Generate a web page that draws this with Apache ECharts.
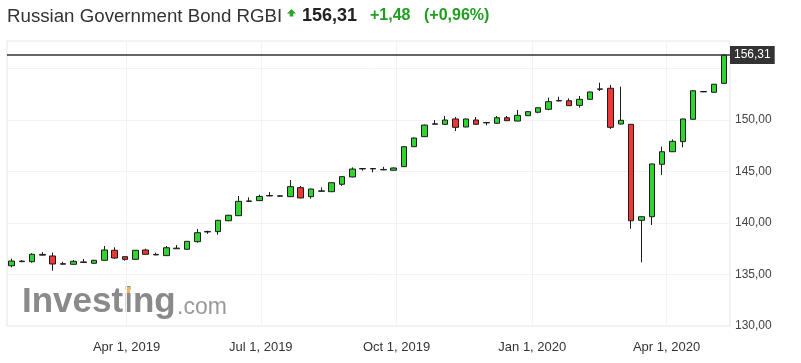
<!DOCTYPE html>
<html><head><meta charset="utf-8">
<script src="https://cdn.jsdelivr.net/npm/echarts@6/dist/echarts.min.js"></script>
<style>html,body{margin:0;padding:0;background:#fff}#c{width:801px;height:363px}</style>
</head><body><div id="c"></div>
<script>
const dates = ['2019-01-13','2019-01-20','2019-01-27','2019-02-03','2019-02-10','2019-02-17','2019-02-24','2019-03-03','2019-03-10','2019-03-17','2019-03-24','2019-03-31','2019-04-07','2019-04-14','2019-04-21','2019-04-28','2019-05-05','2019-05-12','2019-05-19','2019-05-26','2019-06-02','2019-06-09','2019-06-16','2019-06-23','2019-06-30','2019-07-07','2019-07-14','2019-07-21','2019-07-28','2019-08-04','2019-08-11','2019-08-18','2019-08-25','2019-09-01','2019-09-08','2019-09-15','2019-09-22','2019-09-29','2019-10-06','2019-10-13','2019-10-20','2019-10-27','2019-11-03','2019-11-10','2019-11-17','2019-11-24','2019-12-01','2019-12-08','2019-12-15','2019-12-22','2019-12-29','2020-01-05','2020-01-12','2020-01-19','2020-01-26','2020-02-02','2020-02-09','2020-02-16','2020-02-23','2020-03-01','2020-03-08','2020-03-15','2020-03-22','2020-03-29','2020-04-05','2020-04-12','2020-04-19','2020-04-26','2020-05-03','2020-05-10'];
const opens  = [135.85,136.25,136.24,136.88,136.80,136.00,135.99,136.17,136.09,136.38,137.35,136.73,136.47,137.38,136.90,136.83,137.50,137.45,138.19,139.13,139.16,140.22,140.71,142.10,142.17,142.63,142.60,142.56,143.43,142.56,143.08,143.04,143.76,144.47,145.25,145.25,145.16,145.12,145.47,147.41,148.38,149.59,149.58,150.10,149.32,150.00,149.76,149.68,150.22,149.90,150.42,150.75,151.04,151.85,151.87,151.42,152.01,152.98,153.08,149.61,149.58,140.26,140.61,145.70,146.92,147.90,150.07,152.73,152.69,153.56];
const closes = [136.31,136.30,136.96,136.95,136.02,136.05,136.28,136.22,136.38,137.38,136.60,136.47,137.35,136.96,136.95,137.60,137.56,138.22,139.06,139.18,140.26,140.75,142.10,142.14,142.58,142.67,142.64,143.53,142.43,143.30,143.12,143.91,144.50,145.24,145.29,145.29,145.20,145.34,147.41,148.25,149.51,149.63,150.00,149.29,150.10,149.58,149.72,150.22,149.93,150.45,150.81,151.19,151.78,151.89,151.39,152.01,152.72,153.02,149.29,149.97,140.22,140.61,145.73,146.92,147.93,150.10,152.84,152.77,153.47,156.31];
const lows   = [135.70,136.20,136.15,136.85,135.37,135.98,135.95,136.15,136.06,136.35,136.53,136.34,136.44,136.93,136.88,136.80,137.48,137.42,138.09,138.95,138.87,140.18,140.68,142.07,142.14,142.60,142.57,142.53,142.40,142.36,143.05,143.00,143.60,144.44,145.08,144.92,145.13,145.10,145.44,147.38,148.35,149.57,149.55,148.93,149.30,149.55,149.48,149.65,149.90,149.87,150.39,150.65,150.95,151.82,151.36,151.20,151.98,152.82,149.13,149.58,139.44,136.18,139.81,144.66,146.89,147.35,150.04,152.70,152.66,153.53];
const highs  = [136.53,136.40,137.06,137.18,137.12,136.24,136.40,136.50,136.42,137.77,137.64,136.76,137.38,137.51,137.12,137.77,137.86,138.25,139.42,139.25,140.30,140.80,142.62,142.49,142.75,143.00,142.68,144.17,143.60,143.33,143.46,143.95,144.54,145.40,145.32,145.32,145.45,145.40,147.45,148.30,149.55,150.00,150.39,150.30,150.14,150.29,149.80,150.39,150.39,150.97,150.85,151.23,152.17,152.26,152.10,152.33,152.76,153.62,153.40,153.24,149.62,140.65,145.77,147.41,148.12,150.13,152.88,152.80,153.50,156.41];
const xTickDates = ['2019-04-01','2019-07-01','2019-10-01','2020-01-01','2020-04-01'];
const xTickLabels = ['Apr 1, 2019','Jul 1, 2019','Oct 1, 2019','Jan 1, 2020','Apr 1, 2020'];
const xRange = ['2019-01-10','2020-05-14'];
const yTicks = [130,135,140,145,150,155];
const yLabels = ['130,00','135,00','140,00','145,00','150,00',''];
const lastPrice = 156.31;
const lastPriceText = '156,31';
const titleText = 'Russian Government Bond RGBI';
const changeText = '+1,48';
const changePctText = '(+0,96%)';

const FONT = "'Liberation Sans', Arial, sans-serif";
const toMs = s => { const p = s.split('-').map(Number); return Date.UTC(p[0], p[1] - 1, p[2]); };
const data = dates.map((d, i) => [toMs(d), opens[i], closes[i], lows[i], highs[i]]);
const tickTimes = xTickDates.map(toMs);

const chart = echarts.init(document.getElementById('c'), null, {renderer: 'canvas'});
chart.setOption({
  animation: false,
  backgroundColor: '#fff',
  grid: {left: 7, right: 71, top: 41, bottom: 37, show: true, borderColor: '#e3e6ee', borderWidth: 1, containLabel: false},
  xAxis: {
    type: 'value',
    min: toMs(xRange[0]), max: toMs(xRange[1]), scale: true,
    axisLine: {show: false}, axisTick: {show: false, customValues: tickTimes},
    splitLine: {show: true, lineStyle: {color: '#f1f2f5', width: 1}},
    axisLabel: {
      customValues: tickTimes, hideOverlap: false,
      color: '#333', fontFamily: FONT, fontSize: 13, margin: 15,
      formatter: function (v) {
        let best = 0, bd = Infinity;
        tickTimes.forEach((t, i) => { const d = Math.abs(t - v); if (d < bd) { bd = d; best = i; } });
        return xTickLabels[best];
      }
    }
  },
  yAxis: {
    type: 'value', position: 'right', min: 130, max: 157.67, scale: true,
    axisLine: {show: false}, axisTick: {show: false, customValues: yTicks},
    splitLine: {show: true, lineStyle: {color: '#f1f2f5', width: 1}},
    axisLabel: {
      customValues: yTicks, color: '#444', fontFamily: FONT, fontSize: 12, margin: 5,
      formatter: function (v) { const i = yTicks.indexOf(Math.round(v)); return i >= 0 ? yLabels[i] : ''; }
    }
  },
  series: [{
    type: 'candlestick',
    data: data,
    encode: {x: 0, y: [1, 2, 3, 4]},
    barWidth: 6,
    itemStyle: {color: '#31d331', color0: '#f23535', borderColor: '#1c1c1c', borderColor0: '#1c1c1c', borderWidth: 1},
    markLine: {
      silent: true, symbol: 'none', animation: false,
      lineStyle: {color: '#333', width: 1.5, type: 'solid'},
      label: {show: true, position: 'end', distance: 0, formatter: lastPriceText, backgroundColor: '#333', color: '#fff',
              fontFamily: FONT, fontSize: 12, padding: [3, 4, 3, 4]},
      data: [{yAxis: lastPrice}]
    }
  }],
  graphic: [
    {type: 'text', left: 7, top: 7, style: {text: titleText, font: "18.7px " + FONT, fill: '#333'}},
    {type: 'polygon', shape: {points: [[291.5, 9], [296, 13.5], [293.3, 13.5], [293.3, 16.5], [289.7, 16.5], [289.7, 13.5], [287, 13.5]]}, style: {fill: '#2aa52a'}},
    {type: 'text', left: 302, top: 7, style: {text: lastPriceText, font: "bold 18px " + FONT, fill: '#222'}},
    {type: 'text', left: 370, top: 8, style: {text: changeText, font: "bold 16px " + FONT, fill: '#1f9e1f'}},
    {type: 'text', left: 424, top: 8, style: {text: changePctText, font: "bold 16px " + FONT, fill: '#1f9e1f'}},
    {type: 'text', left: 22, top: 285, z: -1, style: {text: 'Investing', font: "bold 35px " + FONT, fill: '#8a8a8a'}},
    {type: 'text', left: 177, top: 296, z: -1, style: {text: '.com', font: "23px " + FONT, fill: '#999'}},
    {type: 'rect', z: -1, shape: {x: 126, y: 287, width: 4, height: 6}, style: {fill: '#f6b35c'}}
  ]
});
</script>
</body></html>
